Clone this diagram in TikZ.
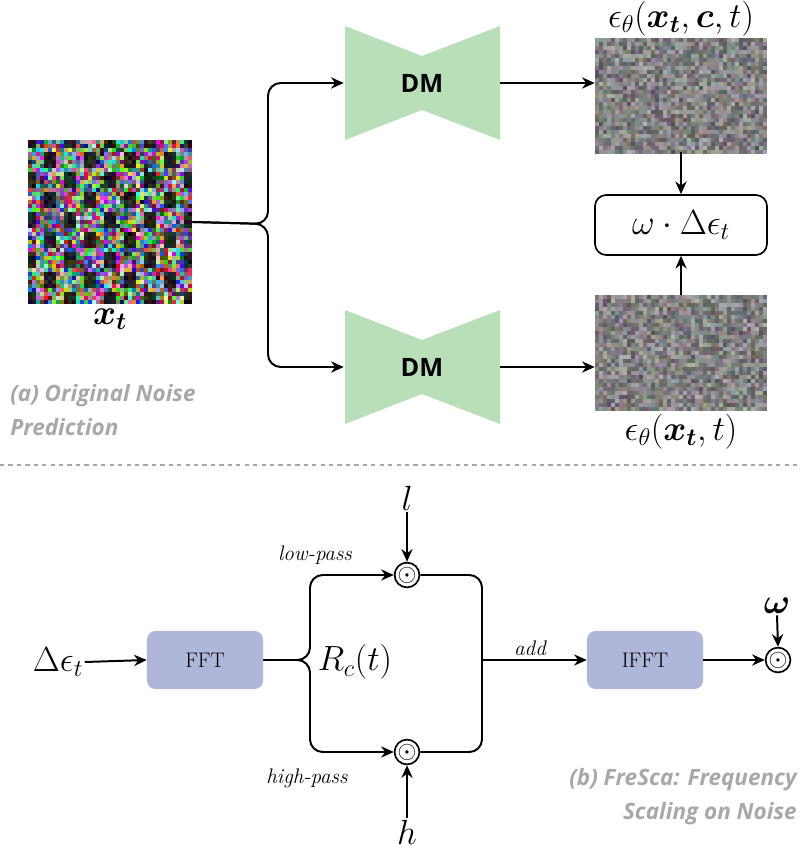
\documentclass[tikz,border=0pt]{standalone}
\usepackage{amsmath,amssymb,bm}
\usepackage{fontspec}
\newfontfamily\labfont{Open Sans}
\usetikzlibrary{arrows.meta,positioning}
\definecolor{dmgreen}{HTML}{B9DFB9}
\definecolor{fftblue}{HTML}{AEB6D9}
\definecolor{capgray}{HTML}{A8A8A8}
\tikzset{
  arr/.style={-{Stealth[length=9pt,width=8pt]}, line width=1.4pt},
  ln/.style={line width=1.4pt},
  img/.style={draw=none, inner sep=0pt},
  dmlab/.style={font=\labfont\bfseries\fontsize{18}{20}\selectfont},
  blk/.style={fill=fftblue, rounded corners=6pt, minimum width=2.9cm, minimum height=1.45cm, font=\fontsize{15}{17}\selectfont},
  captxt/.style={text=capgray, font=\labfont\bfseries\itshape\fontsize{16}{24}\selectfont, inner sep=0pt},
  odot/.style={circle, draw, line width=1.2pt, minimum size=0.6cm, inner sep=0pt, font=\fontsize{18}{18}\selectfont},
  mlab/.style={font=\fontsize{24}{26}\selectfont, inner sep=1pt},
  it/.style={font=\itshape\fontsize{15}{17}\selectfont, inner sep=1pt}
}
\begin{document}
\begin{tikzpicture}[x=0.025cm, y=-0.025cm]
    \useasboundingbox (0,0) rectangle (800,853);
    \pgfmathsetseed{7}

    % Bild x_t
    \foreach \i in {0,...,40}{
      \foreach \j in {0,...,40}{
        \pgfmathsetmacro{\f}{ifthenelse(cos(\i*36)*cos(\j*36+18)>0.45,0.25,1)}
        \pgfmathsetmacro{\r}{rnd*\f}
        \pgfmathsetmacro{\g}{rnd*\f}
        \pgfmathsetmacro{\b}{rnd*\f}
        \definecolor{nc}{rgb}{\r,\g,\b}
        \fill[nc] (28+\i*4,140+\j*4) rectangle ++(4,4);
      }}
    \node[img, minimum width=4.1cm, minimum height=4.1cm] (xt) at (110,222) {};
    \node[mlab, below=2pt of xt] (xtl) {$\bm{x_t}$};

    % Rauschbilder
    \foreach \y in {38,295}{
      \foreach \i in {0,...,42}{
        \foreach \j in {0,...,28}{
          \pgfmathsetmacro{\m}{0.3+0.3*rnd}
          \pgfmathsetmacro{\r}{\m+0.12*rnd}
          \pgfmathsetmacro{\g}{\m+0.12*rnd}
          \pgfmathsetmacro{\b}{\m+0.12*rnd}
          \definecolor{nc}{rgb}{\r,\g,\b}
          \fill[nc] (595+\i*4,\y+\j*4) rectangle ++(4,4);
        }}}
    \node[img, minimum width=4.3cm, minimum height=2.85cm] (ec) at (681,95) {};
    \node[img, minimum width=4.3cm, minimum height=2.85cm] (eu) at (681,352) {};
    \node[mlab, above=0pt of ec] (ecl) {$\epsilon_\theta(\bm{x_t},\bm{c},t)$};
    \node[mlab, below=2pt of eu] (eul) {$\epsilon_\theta(\bm{x_t},t)$};
    \node[draw, line width=1.2pt, rounded corners=8pt, minimum width=4.3cm, minimum height=1.5cm, mlab] (we) at (681,225) {$\omega\cdot\Delta\epsilon_t$};

    % DM
    \foreach \n/\cy in {dma/83, dmb/367}{
      \fill[dmgreen] (345,\cy-57) -- (422,\cy-27) -- (500,\cy-57) -- (500,\cy+57) -- (422,\cy+27) -- (345,\cy+57) -- cycle;
      \node[dmlab, minimum width=3.9cm, minimum height=2.8cm] (\n) at (422,\cy) {DM};
    }

    % Pfeile oben
    \coordinate (sp) at (268,224);
    \draw[arr, rounded corners=9pt] (xt.east) -- (sp) |- (dma.west);
    \draw[arr, rounded corners=9pt] (xt.east) -- (sp) |- (dmb.west);
    \draw[arr] (dma.east) -- (dma.east -| ec.west);
    \draw[arr] (dmb.east) -- (dmb.east -| eu.west);
    \draw[arr] (ec.south) -- (we.north);
    \draw[arr] (eu.north) -- (we.south);

    \node[captxt, align=left, anchor=north west] (capa) at (10,384) {(a) Original Noise\\Prediction};

    \draw[capgray, line width=1.2pt, dash pattern=on 3pt off 3pt] (0,465) -- (800,465);

    % FreSca
    \node[mlab] (de) at (58,662) {$\Delta\epsilon_t$};
    \node[blk] (fft) at (205,660) {FFT};
    \node[blk] (ifft) at (645,660) {IFFT};
    \node[odot] (ol) at (407,575) {$\odot$};
    \node[odot] (oh) at (407,752) {$\odot$};
    \node[odot] (ow) at (778,660) {$\odot$};
    \node[mlab] (l) at (407,498) {$l$};
    \node[mlab] (h) at (407,832) {$h$};
    \node[mlab] (w) at (777,606) {$\bm{\omega}$};
    \node[mlab] (rc) at (355,662) {$R_c(t)$};
    \node[it] (lp) at (315,555) {low-pass};
    \node[it] (hp) at (307,778) {high-pass};
    \node[it] (ad) at (530,648) {add};

    \coordinate (s2) at (310,660);
    \coordinate (j2) at (482,660);
    \draw[arr] (de.east) -- (fft.west);
    \draw[arr, rounded corners=9pt] (fft.east) -- (s2) |- (ol.west);
    \draw[arr, rounded corners=9pt] (fft.east) -- (s2) |- (oh.west);
    \draw[ln, rounded corners=9pt] (ol.east) -| (j2);
    \draw[ln, rounded corners=9pt] (oh.east) -| (j2);
    \draw[arr] (j2) -- (ifft.west);
    \draw[arr] (ifft.east) -- (ow.west);
    \draw[arr] (l.south) -- (ol.north);
    \draw[arr] (h.north) -- (oh.south);
    \draw[arr] (w.south) -- (ow.north);

    \node[captxt, align=right, anchor=north east] (capb) at (797,768) {(b) FreSca: Frequency\\Scaling on Noise};
\end{tikzpicture}
\end{document}
